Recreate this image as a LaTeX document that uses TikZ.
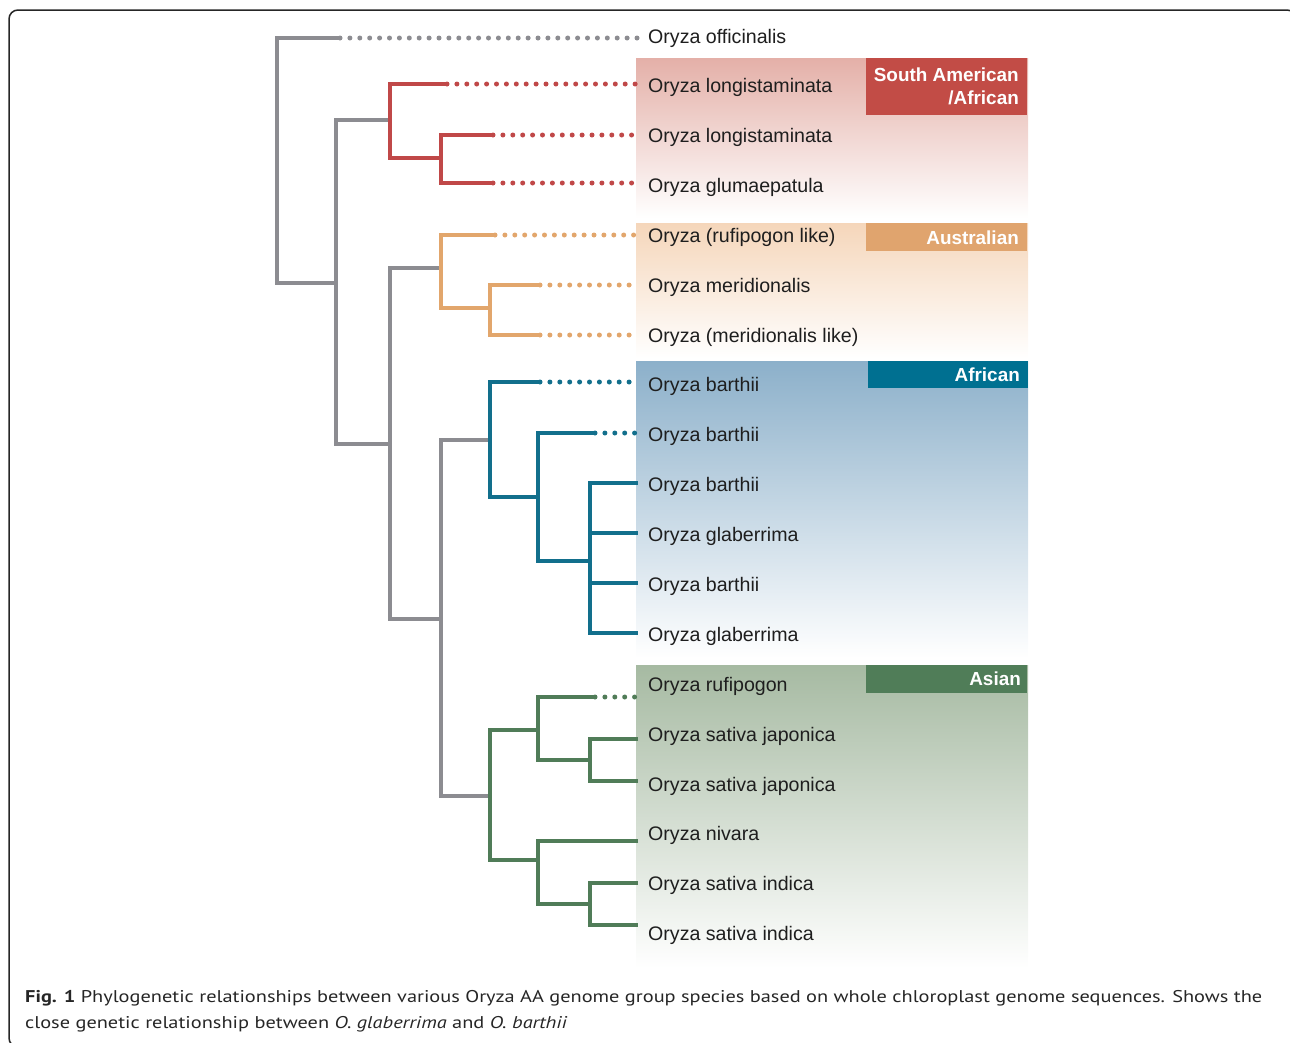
\documentclass[tikz,border=0pt]{standalone}
\usepackage{fontspec}
\setmainfont{Liberation Sans}
\newfontfamily\capfont{PT Sans}
\usepackage{graphicx}
\definecolor{cgray}{RGB}{140,140,145}
\definecolor{cred}{RGB}{192,72,72}
\definecolor{corange}{RGB}{226,166,108}
\definecolor{cblue}{RGB}{18,111,140}
\definecolor{cgreen}{RGB}{80,124,88}
\definecolor{pred}{RGB}{228,176,168}
\definecolor{porange}{RGB}{245,214,186}
\definecolor{pblue}{RGB}{140,176,202}
\definecolor{pgreen}{RGB}{166,186,162}
\definecolor{bred}{RGB}{194,76,70}
\definecolor{borange}{RGB}{224,164,110}
\definecolor{bblue}{RGB}{0,112,145}
\definecolor{bgreen}{RGB}{80,125,88}
\definecolor{txt}{RGB}{30,30,30}
\begin{document}
\begin{tikzpicture}[x=1pt,y=-1pt,
  branch/.style={line width=4.5pt},
  dots/.style={line width=5pt, line cap=round, dash pattern=on 0pt off 9.9pt},
  leaf/.style={anchor=west, inner sep=0pt, text=txt, font=\fontsize{19.6}{22}\selectfont, text height=14pt, text depth=0pt},
  tag/.style={anchor=east, inner sep=0pt, text=white, align=right, font=\bfseries\fontsize{18.9}{23}\selectfont},
]
\useasboundingbox (0,0) rectangle (1290,1042);
\clip (0,0) rectangle (1290,1042);
% frame
\draw[line width=1.5pt, color=black!85, rounded corners=9pt] (40,1047) -- (9,1047) -- (9,10) -- (1296,10) -- (1296,80);

% panels
\shade[top color=pred, bottom color=white] (636,58) rectangle (1028,218);
\shade[top color=porange, bottom color=white] (636,223) rectangle (1028,358);
\shade[top color=pblue, bottom color=white] (636,361) rectangle (1028,658);
\shade[top color=pgreen, bottom color=white] (636,665) rectangle (1028,968);

% tags
\fill[bred] (866,58) rectangle (1027,115);
\node[tag] (tSA) at (1019,86) {South American\\/African};
\fill[borange] (866,223) rectangle (1027,251);
\node[tag] (tAU) at (1019,238) {Australian};
\fill[bblue] (868,361) rectangle (1028,388);
\node[tag] (tAF) at (1020,375) {African};
\fill[bgreen] (866,665) rectangle (1027,693);
\node[tag] (tAS) at (1021,679) {Asian};

% leaf labels
\node[leaf] (L1) at (648,36) {Oryza officinalis};
\node[leaf] (L2) at (648,85.5) {Oryza longistaminata};
\node[leaf] (L3) at (648,135.5) {Oryza longistaminata};
\node[leaf] (L4) at (648,185.5) {Oryza glumaepatula};
\node[leaf] (L5) at (648,235) {Oryza (rufipogon like)};
\node[leaf] (L6) at (648,285) {Oryza meridionalis};
\node[leaf] (L7) at (648,335) {Oryza (meridionalis like)};
\node[leaf] (L8) at (648,384.5) {Oryza barthii};
\node[leaf] (L9) at (648,434.5) {Oryza barthii};
\node[leaf] (L10) at (648,484.5) {Oryza barthii};
\node[leaf] (L11) at (648,534) {Oryza glaberrima};
\node[leaf] (L12) at (648,584) {Oryza barthii};
\node[leaf] (L13) at (648,634) {Oryza glaberrima};
\node[leaf] (L14) at (648,684) {Oryza rufipogon};
\node[leaf] (L15) at (648,734) {Oryza sativa japonica};
\node[leaf] (L16) at (648,784) {Oryza sativa japonica};
\node[leaf] (L17) at (648,833.5) {Oryza nivara};
\node[leaf] (L18) at (648,883.5) {Oryza sativa indica};
\node[leaf] (L19) at (648,933.5) {Oryza sativa indica};

% leaf ends
\coordinate (E1) at (638,38);
\coordinate (E2) at (638,84);
\coordinate (E3) at (638,135);
\coordinate (E4) at (638,183);
\coordinate (E5) at (638,235);
\coordinate (E6) at (638,285);
\coordinate (E7) at (638,335);
\coordinate (E8) at (638,382);
\coordinate (E9) at (638,433);
\coordinate (E10) at (638,483);
\coordinate (E11) at (638,533);
\coordinate (E12) at (638,583);
\coordinate (E13) at (638,633);
\coordinate (E14) at (638,697);
\coordinate (E15) at (638,739);
\coordinate (E16) at (638,781);
\coordinate (E17) at (638,841);
\coordinate (E18) at (638,883);
\coordinate (E19) at (638,925);
% solid ends of dotted leaves
\coordinate (S1) at (340,38);
\coordinate (S2) at (447,84);
\coordinate (S3) at (493,135);
\coordinate (S4) at (493,183);
\coordinate (S5) at (495,235);
\coordinate (S6) at (540,285);
\coordinate (S7) at (540,335);
\coordinate (S8) at (540,382);
\coordinate (S9) at (595,433);
\coordinate (S14) at (595,697);

% internal nodes
\coordinate (N0) at (277,160);
\coordinate (N1) at (336,283);
\coordinate (N2) at (390,444);
\coordinate (N3) at (441,619);
\coordinate (R1) at (390,120);
\coordinate (R2) at (441,158);
\coordinate (O1) at (441,268);
\coordinate (O2) at (490,308);
\coordinate (A1) at (490,440);
\coordinate (A2) at (538,497);
\coordinate (A3) at (590,561);
\coordinate (G0) at (490,796);
\coordinate (G1) at (538,730);
\coordinate (G2) at (590,760);
\coordinate (G3) at (538,860);
\coordinate (G4) at (590,904);

% gray backbone
\draw[branch, cgray] (S1) -| (N0) |- (N1);
\draw[branch, cgray] (R1) -| (N1) |- (N2);
\draw[branch, cgray] (O1) -| (N2) |- (N3);
\draw[branch, cgray] (A1) -| (N3) |- (G0);
\draw[dots, cgray] (S1) -- (E1);

% red clade
\draw[branch, cred] (S2) -| (R1) |- (R2);
\draw[branch, cred] (S3) -| (R2) |- (S4);
\draw[dots, cred] (S2) -- (E2);
\draw[dots, cred] (S3) -- (E3);
\draw[dots, cred] (S4) -- (E4);

% orange clade
\draw[branch, corange] (S5) -| (O1) |- (O2);
\draw[branch, corange] (S6) -| (O2) |- (S7);
\draw[dots, corange] (S5) -- (E5);
\draw[dots, corange] (S6) -- (E6);
\draw[dots, corange] (S7) -- (E7);

% blue clade
\draw[branch, cblue] (S8) -| (A1) |- (A2);
\draw[branch, cblue] (S9) -| (A2) |- (A3);
\draw[branch, cblue] (E10) -| (A3) |- (E13);
\draw[branch, cblue] (A3 |- E11) -- (E11);
\draw[branch, cblue] (A3 |- E12) -- (E12);
\draw[dots, cblue] (S8) -- (E8);
\draw[dots, cblue] (S9) -- (E9);

% green clade
\draw[branch, cgreen] (G1) -| (G0) |- (G3);
\draw[branch, cgreen] (S14) -| (G1) |- (G2);
\draw[branch, cgreen] (E15) -| (G2) |- (E16);
\draw[branch, cgreen] (E17) -| (G3) |- (G4);
\draw[branch, cgreen] (E18) -| (G4) |- (E19);
\draw[dots, cgreen] (S14) -- (E14);

% caption
\node[anchor=north west, inner sep=0pt, text=black!85] (cap) at (25,984) {\resizebox{1237pt}{\height}{\capfont\fontsize{17}{26}\selectfont\begin{tabular}{@{}l@{}}\textbf{Fig. 1} Phylogenetic relationships between various Oryza AA genome group species based on whole chloroplast genome sequences. Shows the\\ close genetic relationship between \textit{O. glaberrima} and \textit{O. barthii}\end{tabular}}};
\end{tikzpicture}
\end{document}
